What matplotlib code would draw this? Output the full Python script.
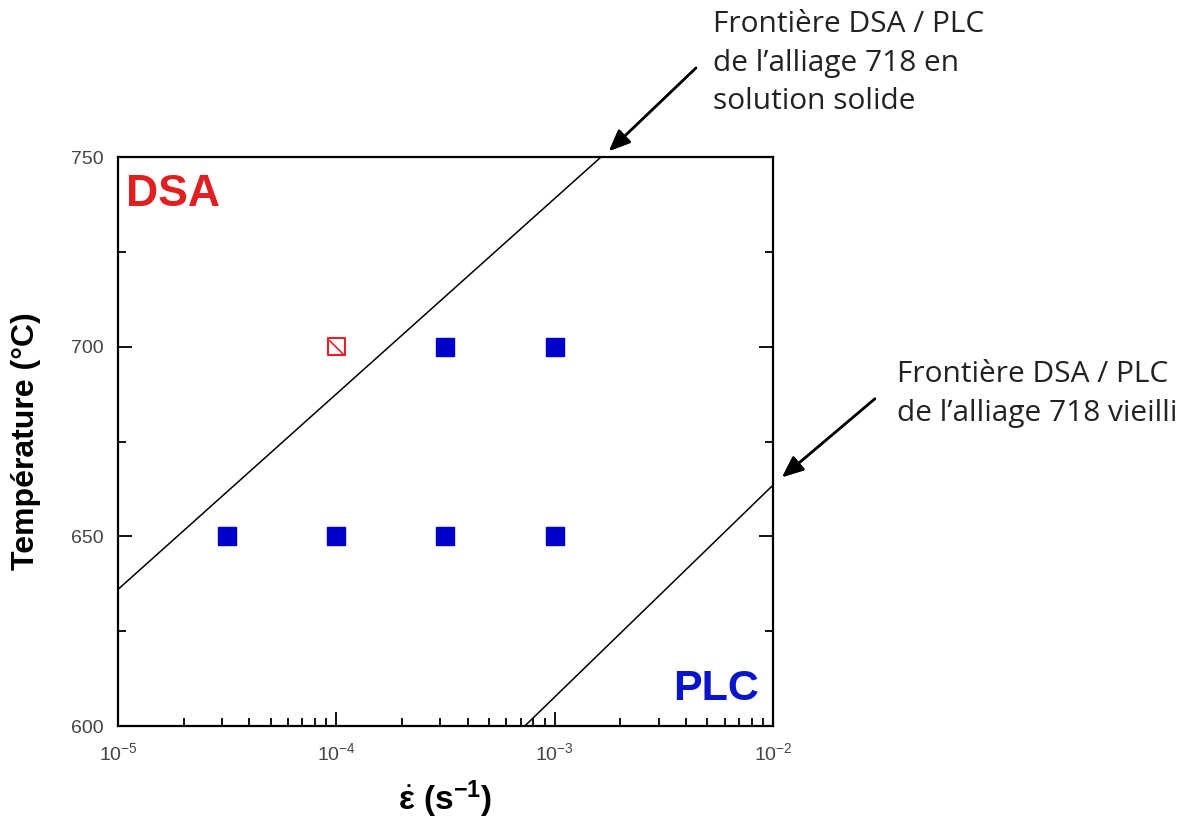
import matplotlib.pyplot as plt
from matplotlib.ticker import LogLocator, MultipleLocator, FixedFormatter, NullFormatter

plt.rcParams['font.family'] = ['Liberation Sans', 'DejaVu Sans']
plt.rcParams['mathtext.fontset'] = 'custom'
plt.rcParams['mathtext.rm'] = 'Liberation Sans'
plt.rcParams['mathtext.it'] = 'Liberation Sans:italic'
plt.rcParams['mathtext.bf'] = 'Liberation Sans:bold'

# data
rate_filled = [3.16e-5, 1e-4, 3.16e-4, 1e-3, 3.16e-4, 1e-3]
temp_filled = [650, 650, 650, 650, 700, 700]
rate_open = [1e-4]
temp_open = [700]

# DSA / PLC boundaries
bound_solution_x = [1e-5, 1.63e-3]
bound_solution_y = [636, 750]
bound_aged_x = [7.3e-4, 1e-2]
bound_aged_y = [600, 663.5]

xticks = [1e-5, 1e-4, 1e-3, 1e-2]
xtick_labels = ['$10^{-5}$', '$10^{-4}$', '$10^{-3}$', '$10^{-2}$']
yticks = [600, 650, 700, 750]

fig = plt.figure(figsize=(11.94, 8.30), dpi=100)
ax = fig.add_axes([0.0988, 0.1253, 0.5486, 0.6855])

ax.plot(bound_solution_x, bound_solution_y, color='black', lw=1.1)
ax.plot(bound_aged_x, bound_aged_y, color='black', lw=1.1)

ax.scatter(rate_filled, temp_filled, marker='s', s=150, color='#0000cc', zorder=3)
ax.scatter(rate_open, temp_open, marker='s', s=150, facecolor='none',
           edgecolor='#e8202a', linewidth=1.5, zorder=3)
ax.scatter(rate_open, temp_open, marker=[(-1, 1), (1, -1)], s=110,
           color='#e8202a', linewidth=1.2, zorder=3)

ax.set_xscale('log')
ax.set_xlim(1e-5, 1e-2)
ax.set_ylim(600, 750)
ax.set_xticks(xticks)
ax.xaxis.set_major_formatter(FixedFormatter(xtick_labels))
ax.xaxis.set_minor_locator(LogLocator(base=10, subs=range(2, 10)))
ax.xaxis.set_minor_formatter(NullFormatter())
ax.set_yticks(yticks)
ax.yaxis.set_minor_locator(MultipleLocator(25))

ax.tick_params(which='both', direction='in', top=False, right=True,
               labelsize=14, labelcolor='#444444', width=1.3)
ax.tick_params(which='major', length=10)
ax.tick_params(which='minor', length=5.5)
ax.tick_params(axis='y', which='major', pad=10)
ax.tick_params(axis='x', which='major', pad=12)
for sp in ax.spines.values():
    sp.set_linewidth(1.6)

ax.set_ylabel('Température (°C)', fontsize=23, fontweight='bold')
ax.yaxis.set_label_coords(-0.118, 0.5)
ax.set_xlabel(r'$\dot{\mathbf{\varepsilon}}$ (s$^{\mathbf{-1}}$)', fontsize=24,
              fontweight='bold', labelpad=10)

ax.text(0.012, 0.935, 'DSA', transform=ax.transAxes, fontsize=32, fontweight='bold',
        color='#e02020', va='center', ha='left')
ax.text(0.978, 0.065, 'PLC', transform=ax.transAxes, fontsize=31, fontweight='bold',
        color='#0a14c8', va='center', ha='right')

note_font = ['Open Sans', 'DejaVu Sans']
fig.text(713 / 1194, 1 - 63 / 830,
         'Frontière DSA / PLC\nde l\u2019alliage 718 en\nsolution solide',
         fontsize=21.5, family=note_font, color='#222222', va='center', ha='left',
         linespacing=1.45)
fig.text(897 / 1194, 1 - 394 / 830,
         'Frontière DSA / PLC\nde l\u2019alliage 718 vieilli',
         fontsize=21.5, family=note_font, color='#222222', va='center', ha='left',
         linespacing=1.45)

arrow = dict(arrowstyle='-|>,head_length=1.3,head_width=0.55', color='black', lw=1.8)
fig.add_artist(plt.annotate('', xy=(607 / 1194, 1 - 153 / 830), xytext=(698 / 1194, 1 - 66 / 830),
                            xycoords='figure fraction', arrowprops=arrow))
fig.add_artist(plt.annotate('', xy=(780 / 1194, 1 - 479 / 830), xytext=(877 / 1194, 1 - 397 / 830),
                            xycoords='figure fraction', arrowprops=arrow))

fig.savefig('out.png', dpi=100)
